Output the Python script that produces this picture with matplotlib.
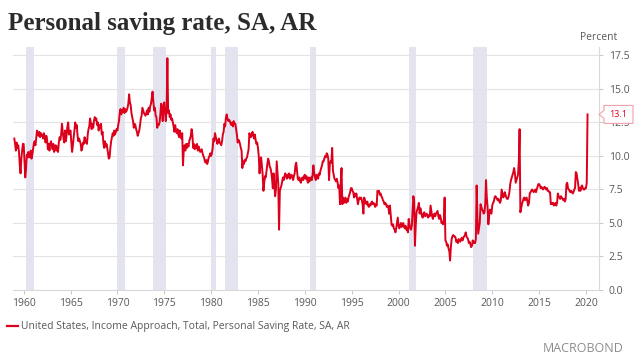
import numpy as np
import matplotlib
matplotlib.use("Agg")
import matplotlib.pyplot as plt
from matplotlib.patches import Polygon

# ---------------- data (monthly, personal saving rate, %) ----------------
start_year = 1959
y1959 = [11.3, 10.9, 10.4, 11.0, 10.6, 10.8, 10.3, 9.3, 8.7, 9.8, 10.4, 10.9]
y1960 = [10.9, 9.6, 8.4, 9.0, 10.1, 9.9, 10.3, 9.9, 10.0, 10.4, 9.8, 10.1]
y1961 = [10.5, 10.9, 11.1, 10.8, 11.3, 11.9, 11.7, 11.5, 11.8, 11.4, 11.7, 11.5]
y1962 = [11.6, 11.3, 11.7, 11.4, 11.0, 11.5, 11.2, 10.5, 10.9, 10.4, 10.9, 11.1]
y1963 = [10.8, 10.5, 10.9, 10.3, 10.6, 10.8, 10.4, 10.7, 10.3, 11.0, 11.4, 11.2]
y1964 = [11.6, 12.4, 11.8, 11.3, 11.0, 11.9, 11.1, 11.6, 12.2, 12.5, 11.6, 11.8]
y1965 = [11.9, 11.0, 10.3, 10.8, 11.4, 11.9, 12.5, 12.1, 12.3, 11.5, 11.1, 11.3]
y1966 = [11.1, 10.9, 10.4, 10.6, 11.0, 10.9, 11.4, 11.0, 11.2, 10.9, 11.6, 12.0]
y1967 = [12.2, 12.8, 12.5, 12.0, 12.4, 12.1, 12.6, 12.9, 12.7, 12.8, 12.3, 12.5]
y1968 = [11.9, 12.3, 12.1, 12.4, 11.6, 11.8, 11.0, 10.6, 11.1, 10.7, 10.9, 10.6]
y1969 = [10.2, 9.8, 9.9, 10.6, 11.1, 11.4, 11.7, 11.5, 11.9, 11.6, 11.8, 12.0]
y1970 = [11.9, 12.3, 12.6, 13.2, 13.5, 13.1, 13.4, 13.3, 13.6, 13.2, 13.5, 13.3]
y1971 = [13.4, 13.6, 13.9, 14.6, 14.0, 13.8, 13.2, 12.9, 12.6, 12.1, 12.4, 12.3]
y1972 = [12.0, 11.8, 11.5, 11.7, 11.9, 12.3, 12.8, 13.0, 13.6, 13.4, 13.2, 13.1]
y1973 = [13.0, 13.2, 13.4, 13.1, 13.6, 13.3, 13.7, 13.9, 14.3, 14.8, 14.1, 13.4]
y1974 = [13.6, 13.0, 12.9, 12.1, 12.4, 12.3, 12.5, 13.1, 13.9, 13.5, 12.6, 13.8]
y1975 = [14.0, 13.2, 12.6, 13.5, 17.3, 13.2, 13.4, 12.9, 13.1, 12.7, 12.8, 12.5]
y1976 = [12.2, 11.8, 12.3, 11.9, 11.7, 12.0, 11.6, 11.4, 11.9, 11.5, 11.3, 11.7]
y1977 = [9.3, 10.5, 10.8, 10.4, 10.9, 10.6, 10.9, 10.7, 11.1, 11.3, 11.5, 12.0]
y1978 = [11.6, 10.6, 10.9, 10.5, 10.8, 10.6, 10.9, 10.4, 10.7, 10.5, 10.3, 10.4]
y1979 = [10.5, 10.2, 10.0, 9.9, 9.6, 9.5, 9.7, 9.4, 9.6, 9.9, 10.0, 10.2]
y1980 = [10.0, 10.2, 10.6, 11.3, 11.1, 11.7, 11.4, 11.2, 10.9, 11.1, 11.3, 11.0]
y1981 = [10.9, 10.8, 11.1, 11.6, 11.8, 12.4, 12.2, 12.9, 13.1, 12.8, 12.6, 12.7]
y1982 = [12.6, 12.4, 12.3, 12.5, 12.2, 12.6, 12.4, 12.4, 12.0, 11.6, 11.0, 11.2]
y1983 = [11.1, 10.9, 10.6, 10.4, 9.1, 9.6, 9.4, 9.7, 9.6, 9.8, 9.9, 10.2]
y1984 = [10.5, 11.7, 11.5, 11.4, 11.6, 11.8, 11.5, 11.3, 11.6, 11.2, 10.9, 11.0]
y1985 = [10.6, 10.0, 8.7, 9.5, 9.9, 9.3, 8.6, 7.4, 8.0, 8.5, 8.4, 8.9]
y1986 = [9.4, 9.8, 9.6, 9.2, 9.1, 8.8, 8.3, 7.6, 8.7, 7.9, 7.0, 7.5]
y1987 = [9.6, 8.8, 7.9, 4.5, 7.4, 7.6, 7.8, 8.1, 8.4, 8.2, 8.5, 8.7]
y1988 = [8.5, 8.3, 8.6, 8.4, 8.7, 8.3, 8.5, 8.6, 8.4, 8.2, 8.5, 8.7]
y1989 = [9.3, 9.5, 8.9, 8.3, 8.2, 8.4, 8.1, 8.0, 8.3, 8.4, 8.2, 8.5]
y1990 = [8.6, 8.3, 8.5, 8.2, 8.0, 8.4, 8.1, 8.3, 8.4, 8.2, 8.6, 9.3]
y1991 = [8.7, 8.4, 8.2, 8.6, 8.5, 8.3, 8.7, 8.6, 8.9, 9.1, 9.3, 9.6]
y1992 = [9.6, 9.8, 10.0, 9.9, 10.2, 10.1, 9.8, 8.2, 9.4, 9.6, 9.5, 10.6]
y1993 = [8.9, 8.6, 8.3, 8.2, 8.1, 8.3, 8.0, 7.6, 7.8, 6.4, 8.0, 9.1]
y1994 = [6.4, 6.9, 6.5, 6.7, 6.9, 6.5, 6.8, 6.6, 6.9, 7.1, 7.3, 7.6]
y1995 = [7.6, 7.4, 7.3, 6.9, 7.2, 7.0, 7.2, 6.8, 6.4, 6.7, 6.9, 6.8]
y1996 = [6.9, 6.7, 6.4, 5.7, 6.9, 6.7, 6.5, 6.4, 6.6, 6.3, 6.2, 6.4]
y1997 = [6.3, 6.5, 6.6, 6.4, 6.5, 6.4, 6.2, 6.4, 6.3, 7.4, 7.3, 7.4]
y1998 = [7.1, 7.2, 7.0, 6.9, 6.7, 6.6, 6.4, 6.5, 6.4, 6.2, 6.3, 6.2]
y1999 = [5.7, 6.3, 5.6, 4.9, 4.8, 4.9, 4.6, 4.5, 4.3, 4.6, 5.0, 5.4]
y2000 = [4.8, 4.6, 4.8, 5.0, 4.7, 4.9, 5.0, 4.7, 4.6, 4.8, 4.5, 4.6]
y2001 = [4.3, 5.3, 4.9, 4.6, 4.5, 4.8, 5.9, 7.0, 6.6, 3.3, 4.8, 5.8]
y2002 = [6.0, 6.2, 6.5, 5.7, 6.1, 5.8, 5.5, 5.4, 5.7, 5.8, 5.5, 5.6]
y2003 = [5.7, 5.5, 5.4, 5.6, 5.5, 6.3, 5.9, 5.5, 5.3, 5.6, 5.7, 5.5]
y2004 = [5.7, 5.8, 5.9, 5.5, 5.3, 5.6, 5.4, 5.0, 5.1, 4.9, 5.2, 6.9]
y2005 = [3.7, 3.6, 3.3, 3.4, 3.1, 2.9, 2.2, 3.2, 3.8, 4.0, 4.1, 4.0]
y2006 = [4.0, 3.9, 3.6, 3.7, 3.5, 3.8, 3.7, 3.6, 3.8, 3.9, 3.7, 3.9]
y2007 = [4.0, 4.1, 4.3, 4.0, 3.9, 3.8, 3.5, 3.6, 3.4, 3.2, 3.3, 3.7]
y2008 = [3.5, 3.6, 3.5, 3.8, 7.8, 5.4, 4.2, 4.6, 5.0, 6.4, 6.2, 6.0]
y2009 = [5.9, 5.7, 5.8, 6.4, 8.2, 6.9, 6.2, 4.9, 5.5, 6.0, 5.8, 5.7]
y2010 = [6.3, 6.5, 6.6, 6.9, 7.0, 6.9, 6.8, 6.7, 6.8, 6.6, 6.5, 6.7]
y2011 = [7.5, 7.2, 6.9, 7.0, 7.3, 7.1, 6.9, 6.8, 6.8, 7.0, 7.3, 7.9]
y2012 = [8.2, 8.4, 8.6, 8.8, 9.1, 8.7, 8.0, 8.2, 8.4, 8.6, 9.6, 12.0]
y2013 = [5.8, 6.1, 6.4, 6.6, 6.8, 6.9, 6.7, 6.8, 6.9, 6.6, 6.3, 6.5]
y2014 = [7.2, 7.3, 7.4, 7.5, 7.4, 7.3, 7.4, 7.5, 7.3, 7.5, 7.7, 7.9]
y2015 = [7.9, 7.8, 7.6, 7.7, 7.6, 7.5, 7.6, 7.7, 7.6, 7.5, 7.6, 7.4]
y2016 = [7.4, 7.3, 7.3, 6.4, 6.5, 6.4, 6.5, 6.3, 6.4, 6.5, 6.3, 6.5]
y2017 = [7.2, 7.0, 6.9, 6.8, 7.0, 6.9, 6.8, 6.7, 6.8, 6.6, 6.8, 7.9]
y2018 = [8.0, 7.6, 7.5, 7.4, 7.3, 7.4, 7.3, 7.2, 7.3, 7.5, 7.6, 8.8]
y2019 = [8.7, 8.3, 7.9, 7.4, 7.6, 7.4, 7.7, 7.8, 7.6, 7.5, 7.5, 7.6]
y2020 = [7.6, 8.0, 13.1]

saving_rate = (y1959 + y1960 + y1961 + y1962 + y1963 + y1964 + y1965 + y1966 + y1967 +
               y1968 + y1969 + y1970 + y1971 + y1972 + y1973 + y1974 + y1975 + y1976 +
               y1977 + y1978 + y1979 + y1980 + y1981 + y1982 + y1983 + y1984 + y1985 +
               y1986 + y1987 + y1988 + y1989 + y1990 + y1991 + y1992 + y1993 + y1994 +
               y1995 + y1996 + y1997 + y1998 + y1999 + y2000 + y2001 + y2002 + y2003 +
               y2004 + y2005 + y2006 + y2007 + y2008 + y2009 + y2010 + y2011 + y2012 +
               y2013 + y2014 + y2015 + y2016 + y2017 + y2018 + y2019 + y2020)

# NBER recessions (year, month) start / end
rec_start = [(1960, 4), (1969, 12), (1973, 11), (1980, 1), (1981, 7), (1990, 7), (2001, 3), (2007, 12)]
rec_end = [(1961, 2), (1970, 11), (1975, 3), (1980, 7), (1982, 11), (1991, 3), (2001, 11), (2009, 6)]

x_ticks = list(range(1960, 2021, 5))
y_ticks = [0.0, 2.5, 5.0, 7.5, 10.0, 12.5, 15.0, 17.5]
title = "Personal saving rate, SA, AR"
series_label = "United States, Income Approach, Total, Personal Saving Rate, SA, AR"
unit_label = "Percent"

# ---------------- drawing ----------------
RED = "#dc001c"
GREY_TXT = "#595959"
GRID = "#e3e3e3"
BAND = "#e4e4f0"

t = start_year + np.arange(len(saving_rate)) / 12.0

fig = plt.figure(figsize=(6.4, 3.6), dpi=100)
ax = fig.add_axes([13 / 640, 1 - 290 / 360, 586 / 640, 243 / 360])

for (ys, ms), (ye, me) in zip(rec_start, rec_end):
    ax.axvspan(ys + (ms - 1) / 12, ye + (me - 1) / 12, color=BAND, lw=0, zorder=0)

ax.plot(t, saving_rate, color=RED, lw=1.4, zorder=3, solid_joinstyle="round")

ax.set_xlim(1958.86, 2021.39)
ax.set_ylim(0, 18.13)

ax.yaxis.tick_right()
ax.set_yticks(y_ticks)
ax.set_yticklabels([f"{v:.1f}" for v in y_ticks])
ax.set_xticks(x_ticks)
ax.set_xticklabels([str(v) for v in x_ticks])
ax.grid(axis="y", color=GRID, lw=0.8, zorder=1)
ax.set_axisbelow(True)

for s in ["top", "left"]:
    ax.spines[s].set_visible(False)
for s in ["right", "bottom"]:
    ax.spines[s].set_color("#d9d9d9")
    ax.spines[s].set_linewidth(0.8)

ax.tick_params(axis="both", length=3, width=0.6, color="#bfbfbf",
               labelsize=7.5, labelcolor=GREY_TXT)
ax.tick_params(axis="y", pad=4)
ax.tick_params(axis="x", pad=3)
for lab in ax.get_xticklabels() + ax.get_yticklabels():
    lab.set_fontfamily("Open Sans")

# title and texts
fig.text(8 / 640, 1 - 30 / 360, title, fontsize=18, fontweight="bold",
         family="Liberation Serif", color="#2b2b2b", va="baseline", ha="left")
fig.text(617 / 640, 1 - 38 / 360, unit_label, fontsize=7.5, family="Open Sans",
         color=GREY_TXT, ha="right", va="center")

# legend
fig.lines.append(plt.Line2D([7 / 640, 18 / 640], [1 - 326 / 360, 1 - 326 / 360],
                            color=RED, lw=1.6, transform=fig.transFigure))
fig.text(21 / 640, 1 - 326 / 360, series_label, fontsize=7.5, family="Open Sans",
         color=GREY_TXT, ha="left", va="center")

fig.text(624 / 640, 1 - 348 / 360, "MACROBOND", fontsize=9, family="Open Sans",
         color="#8c8c8c", ha="right", va="center")

# last value call-out
fig.canvas.draw()
last = saving_rate[-1]
tip = ax.transData.transform((ax.get_xlim()[1], last))
tx, ty = tip
verts = [(tx, ty), (tx + 5, ty + 4), (tx + 5, ty + 9), (tx + 34, ty + 9),
         (tx + 34, ty - 9), (tx + 5, ty - 9), (tx + 5, ty - 4)]
poly = Polygon(verts, closed=True, transform=None, facecolor="white",
               edgecolor="#f2a0a8", lw=0.8, zorder=20, clip_on=False)
fig.patches.append(poly)
tx_f, ty_f = fig.transFigure.inverted().transform((tx + 19.5, ty))
fig.text(tx_f, ty_f, f"{last:.1f}", fontsize=6.5, family="Open Sans", color=RED,
         ha="center", va="center", zorder=21)

fig.savefig("out.png", dpi=100)
